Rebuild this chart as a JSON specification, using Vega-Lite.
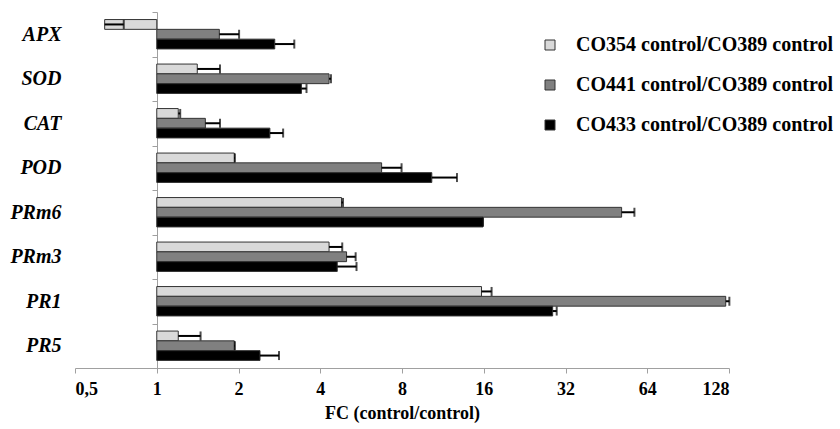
{
  "$schema": "https://vega.github.io/schema/vega-lite/v6.json",
  "autosize": "none",
  "padding": {"left": 75, "top": 12, "right": 111, "bottom": 61},
  "width": 654,
  "height": 356,
  "background": "white",
  "config": {
    "font": "Liberation Serif",
    "view": {"stroke": null}
  },
  "data": {
    "values": [
      {"gene": "APX", "series": "CO354 control/CO389 control", "fc": 0.643, "upper": 0.756},
      {"gene": "APX", "series": "CO441 control/CO389 control", "fc": 1.70, "upper": 2.01},
      {"gene": "APX", "series": "CO433 control/CO389 control", "fc": 2.72, "upper": 3.21},
      {"gene": "SOD", "series": "CO354 control/CO389 control", "fc": 1.41, "upper": 1.71},
      {"gene": "SOD", "series": "CO441 control/CO389 control", "fc": 4.31, "upper": 4.38},
      {"gene": "SOD", "series": "CO433 control/CO389 control", "fc": 3.41, "upper": 3.56},
      {"gene": "CAT", "series": "CO354 control/CO389 control", "fc": 1.20, "upper": 1.22},
      {"gene": "CAT", "series": "CO441 control/CO389 control", "fc": 1.51, "upper": 1.71},
      {"gene": "CAT", "series": "CO433 control/CO389 control", "fc": 2.61, "upper": 2.92},
      {"gene": "POD", "series": "CO354 control/CO389 control", "fc": 1.93, "upper": 1.94},
      {"gene": "POD", "series": "CO441 control/CO389 control", "fc": 6.73, "upper": 7.97},
      {"gene": "POD", "series": "CO433 control/CO389 control", "fc": 10.3, "upper": 12.75},
      {"gene": "PRm6", "series": "CO354 control/CO389 control", "fc": 4.79, "upper": 4.85},
      {"gene": "PRm6", "series": "CO441 control/CO389 control", "fc": 51.5, "upper": 57.4},
      {"gene": "PRm6", "series": "CO433 control/CO389 control", "fc": 15.9, "upper": 15.9},
      {"gene": "PRm3", "series": "CO354 control/CO389 control", "fc": 4.31, "upper": 4.82},
      {"gene": "PRm3", "series": "CO441 control/CO389 control", "fc": 5.0, "upper": 5.40},
      {"gene": "PRm3", "series": "CO433 control/CO389 control", "fc": 4.62, "upper": 5.44},
      {"gene": "PR1", "series": "CO354 control/CO389 control", "fc": 15.7, "upper": 17.1},
      {"gene": "PR1", "series": "CO441 control/CO389 control", "fc": 124.5, "upper": 128.4},
      {"gene": "PR1", "series": "CO433 control/CO389 control", "fc": 28.7, "upper": 29.7},
      {"gene": "PR5", "series": "CO354 control/CO389 control", "fc": 1.20, "upper": 1.45},
      {"gene": "PR5", "series": "CO441 control/CO389 control", "fc": 1.93, "upper": 1.94},
      {"gene": "PR5", "series": "CO433 control/CO389 control", "fc": 2.40, "upper": 2.82}
    ]
  },
  "encoding": {
    "y": {
      "field": "gene",
      "type": "nominal",
      "sort": ["APX", "SOD", "CAT", "POD", "PRm6", "PRm3", "PR1", "PR5"],
      "scale": {"paddingInner": 0, "paddingOuter": 0},
      "axis": {
        "title": null,
        "offset": -82,
        "tickBand": "extent",
        "domainColor": "#a0a0a0",
        "tickColor": "#a0a0a0",
        "tickSize": 5,
        "labelPadding": 91,
        "labelFont": "Liberation Serif",
        "labelFontSize": 20,
        "labelFontWeight": "bold",
        "labelFontStyle": "italic",
        "labelColor": "#000000"
      }
    },
    "yOffset": {
      "field": "series",
      "type": "nominal",
      "sort": ["CO354 control/CO389 control", "CO441 control/CO389 control", "CO433 control/CO389 control"],
      "scale": {"paddingInner": 0, "paddingOuter": 0.77}
    }
  },
  "layer": [
    {
      "mark": {"type": "bar", "stroke": "#333333", "strokeWidth": 1},
      "encoding": {
        "x": {
          "field": "fc",
          "type": "quantitative",
          "scale": {"type": "log", "base": 2, "domain": [0.5, 128], "nice": false},
          "axis": {
            "title": "FC (control/control)",
            "values": [0.5, 1, 2, 4, 8, 16, 32, 64, 128],
            "labelExpr": "datum.value == 0.5 ? '0,5' : datum.label",
            "grid": false,
            "domainColor": "#a0a0a0",
            "tickColor": "#a0a0a0",
            "tickSize": 5,
            "labelPadding": 7,
            "labelFont": "Liberation Serif",
            "labelFontSize": 18,
            "labelFontWeight": "bold",
            "labelColor": "#000000",
            "titleFont": "Liberation Serif",
            "titleFontSize": 18,
            "titleFontWeight": "bold",
            "titleColor": "#000000",
            "titlePadding": 6
          }
        },
        "x2": {"datum": 1},
        "color": {
          "field": "series",
          "type": "nominal",
          "scale": {
            "domain": ["CO354 control/CO389 control", "CO441 control/CO389 control", "CO433 control/CO389 control"],
            "range": ["#d9d9d9", "#808080", "#000000"]
          },
          "legend": {
            "title": null,
            "orient": "none",
            "legendX": 465,
            "legendY": 23,
            "symbolType": "square",
            "symbolSize": 100,
            "symbolStrokeColor": "#333333",
            "symbolStrokeWidth": 1,
            "labelFont": "Liberation Serif",
            "labelFontSize": 20,
            "labelFontWeight": "bold",
            "labelColor": "#000000",
            "labelOffset": 16,
            "labelLimit": 400,
            "rowPadding": 20
          }
        }
      }
    },
    {
      "mark": {"type": "rule", "color": "#000000", "strokeWidth": 2},
      "encoding": {
        "x": {"field": "fc", "type": "quantitative"},
        "x2": {"field": "upper"}
      }
    },
    {
      "mark": {"type": "tick", "orient": "vertical", "color": "#000000", "thickness": 2, "size": 9},
      "encoding": {
        "x": {"field": "upper", "type": "quantitative"}
      }
    }
  ]
}
